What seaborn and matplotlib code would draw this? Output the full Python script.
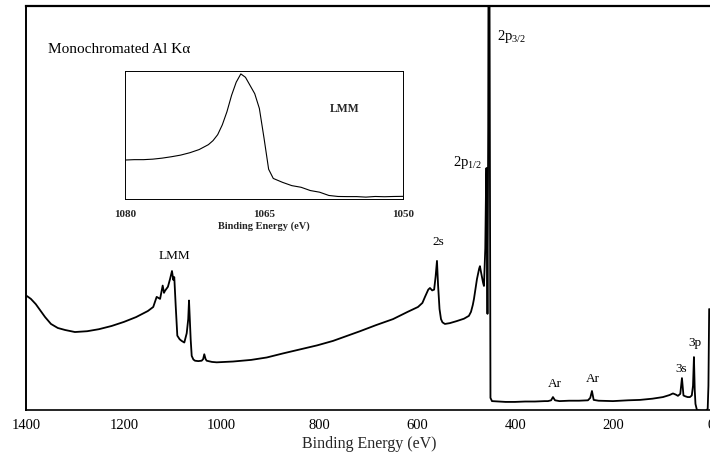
import numpy as np
import pandas as pd
import matplotlib
matplotlib.use("Agg")
import matplotlib.pyplot as plt
import seaborn as sns

# ---------------- data ----------------
main_energy = [1398, 1390, 1380, 1370, 1361, 1349, 1335, 1320, 1300, 1275, 1251, 1225, 1200, 1175,
               1151, 1140, 1133, 1126, 1120.7, 1118, 1116, 1110, 1105.7, 1101.7, 1099, 1097, 1094.1,
               1090.8, 1086, 1081.9, 1076.5, 1071.6, 1068.5, 1066.9, 1065.2, 1063.5, 1061.4, 1058,
               1054.7, 1048, 1041, 1038, 1035.7, 1033, 1030.8, 1020, 1010.3, 995, 977, 940, 908, 875,
               840, 805, 772.7, 745, 717.5, 685, 650, 620, 599, 590, 584.7, 578, 574.5, 570, 566, 563,
               560.2, 558, 555, 552, 549, 544, 534, 520, 505, 495, 490.7, 487, 484.6, 478.5, 474,
               472.4, 470, 466, 464.2, 461.5, 460, 459.1, 458, 457, 455.5, 454.5, 453.5, 452, 450.9,
               447.8, 435, 420, 400.8, 380, 360, 340, 333.4, 327, 323.2, 319, 310, 290, 270, 251.7,
               247, 243.5, 240, 230, 200.6, 170, 145.4, 120, 98.4, 85, 78, 72, 67.8, 63, 59.6, 56.5,
               53, 48, 43.3, 39.5, 37, 35.1, 33.5, 32, 29, 20, 10.6, 7, 5.5, 4]
main_counts = [28.2, 27.5, 26.2, 24.5, 23.0, 21.3, 20.3, 19.8, 19.3, 19.5, 20.0, 20.8, 21.8, 23.0,
               24.5, 25.5, 28.0, 27.5, 30.8, 29.0, 29.5, 30.5, 32.4, 34.4, 32.2, 32.9, 25.8,
               18.4, 17.5, 17.1, 16.7, 19.0, 22.5, 27.1, 22.0, 17.5, 13.4, 12.5,
               12.2, 12.1, 12.2, 12.6, 13.8, 12.6, 12.2, 11.9, 11.8, 11.9, 12.0, 12.4, 13.0, 14.0,
               15.0, 16.0, 17.1, 18.3, 19.5, 21.0, 22.5, 24.3, 25.5, 26.5, 28.0, 29.8, 30.2, 29.6, 29.8, 33.0,
               36.9, 31.0, 25.0, 22.5, 21.7, 21.3, 21.5, 22.0, 22.6, 23.3, 24.3, 26.0, 27.5, 32.4, 35.0,
               35.6, 34.0, 31.5, 30.7, 40.0, 55.0, 59.9, 45.0, 23.8, 70.0, 140.0, 140.0, 60.0, 3.0,
               2.2, 2.1, 2.0, 2.0, 2.1, 2.1, 2.2, 2.2, 2.4, 3.2, 2.4, 2.2, 2.3, 2.3, 2.4,
               3.0, 4.7, 2.5, 2.3, 2.2, 2.4, 2.5, 2.8, 3.2, 3.7, 4.1, 3.8, 3.5, 4.0, 7.9, 3.6,
               3.4, 3.2, 3.2, 3.6, 6.0, 13.1, 5.0, 1.5, 0.0, -0.2, -0.2, 0.3, 6.0, 25.0]

inset_energy = [1080, 1079, 1078, 1077, 1076, 1075, 1074, 1073, 1072, 1071, 1070.5, 1070, 1069.5,
                1069, 1068.5, 1068, 1067.5, 1067, 1066.5, 1066, 1065.5, 1065, 1064.5, 1064, 1063,
                1062, 1061, 1060, 1059, 1058, 1057, 1056, 1055, 1054, 1053, 1052, 1051, 1050]
inset_counts = [29.4, 29.7, 29.7, 30.1, 30.9, 32.0, 33.3, 35.2, 37.7, 41.6, 44.8, 49.5, 57.3,
                67.7, 80.7, 91.1, 97.7, 95.0, 88.5, 82.0, 70.3, 46.9, 22.1, 14.8, 11.7,
                9.1, 7.8, 5.2, 3.9, 1.3, 0.5, 0.4, 0.4, 0.0, 0.5, 0.3, 0.5, 0.6]

main_ticks = [1400, 1200, 1000, 800, 600, 400, 200, 0]
inset_ticks = [1080, 1065, 1050]

# peak labels: (text, energy, intensity, ha, fontsize)
peak_labels = [("LMM", 1097.6, 38.4, "center", 9.5),
               ("2s", 558.2, 41.8, "center", 9.5),
               ("2p$_{3/2}$", 437.6, 92.6, "left", 10.5),
               ("2p$_{1/2}$", 468.3, 61.4, "right", 10.5),
               ("Ar", 319, 6.7, "center", 9.5),
               ("Ar", 241.4, 7.9, "center", 9.5),
               ("3s", 60.2, 10.4, "center", 9.5),
               ("3p", 34, 16.8, "center", 9.5)]

# ---------------- style ----------------
sns.set_style("white")
plt.rcParams['font.family'] = ['Liberation Serif', 'DejaVu Serif']
plt.rcParams['mathtext.fontset'] = 'custom'
plt.rcParams['mathtext.rm'] = 'Liberation Serif'
plt.rcParams['mathtext.it'] = 'Liberation Serif'

W, H = 710, 456
fig = plt.figure(figsize=(W / 100, H / 100), dpi=100)

# main axes: left x=26, right ~712 (-2 eV), bottom y=411, top y=7
ax = fig.add_axes([26 / W, (H - 411) / H, (712.1 - 26) / W, (411 - 7) / H])
main_df = pd.DataFrame({"energy": main_energy, "counts": main_counts})
sns.lineplot(data=main_df, x="energy", y="counts", ax=ax, color="black",
             linewidth=1.3, estimator=None, sort=False)
ax.set_xlim(1400, -2)
ax.set_ylim(0, 100)
ax.set_xticks(main_ticks)
ax.set_xticklabels([str(t) for t in main_ticks], fontsize=10.5)
ax.set_yticks([])
ax.set_ylabel("")
ax.set_xlabel("Binding Energy (eV)", fontsize=11.5, labelpad=3)
ax.tick_params(axis="x", direction="in", length=3, width=0.8, pad=6, colors="black")
for side in ["left", "bottom", "top"]:
    ax.spines[side].set_visible(True)
    ax.spines[side].set_color("black")
ax.spines["left"].set_linewidth(1.4)
ax.spines["bottom"].set_linewidth(1.2)
ax.spines["top"].set_linewidth(1.6)
ax.spines["right"].set_visible(False)

for txt, e, v, ha, fs in peak_labels:
    ax.text(e, v, txt, ha=ha, va="center", fontsize=fs, color="black")
ax.text(1355, 89.4, "Monochromated Al K\u03b1", ha="left", va="center",
        fontsize=11, color="black")

# inset axes: x 125..403, y 72..200
ins = fig.add_axes([125 / W, (H - 200) / H, (403 - 125) / W, (200 - 72) / H])
inset_df = pd.DataFrame({"energy": inset_energy, "counts": inset_counts})
sns.lineplot(data=inset_df, x="energy", y="counts", ax=ins, color="black",
             linewidth=0.8, estimator=None, sort=False)
ins.set_xlim(1080, 1050)
ins.set_ylim(-1.5, 100)
ins.set_xticks(inset_ticks)
ins.set_xticklabels([str(t) for t in inset_ticks], fontsize=8, fontweight="bold")
ins.set_yticks([])
ins.set_ylabel("")
ins.set_xlabel("Binding Energy (eV)", fontsize=7.5, fontweight="bold", labelpad=2)
ins.tick_params(axis="x", direction="in", length=0, pad=7)
for side in ins.spines:
    ins.spines[side].set_visible(True)
    ins.spines[side].set_color("black")
    ins.spines[side].set_linewidth(0.7)
ins.text(1056.3, 70.3, "LMM", ha="center", va="center", fontsize=8.5, fontweight="bold")

fig.savefig("out.png", dpi=100)
